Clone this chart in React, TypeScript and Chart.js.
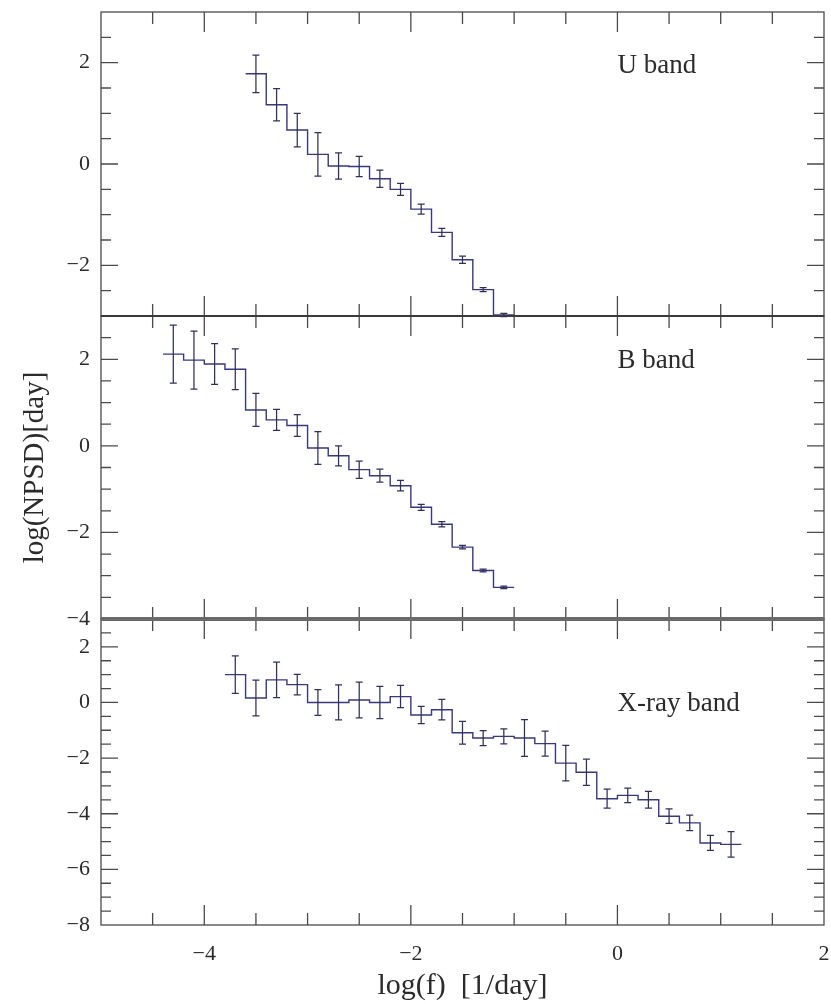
import React, { useEffect, useRef } from 'react';
import { Chart, registerables } from 'chart.js';

Chart.register(...registerables);

// ---------------- data ----------------
const uFreq = [-3.5, -3.3, -3.1, -2.9, -2.7, -2.5, -2.3, -2.1, -1.9, -1.7, -1.5, -1.3, -1.1];
const uPower = [1.78, 1.17, 0.67, 0.19, -0.04, -0.05, -0.29, -0.5, -0.89, -1.35, -1.89, -2.48, -2.98];
const uErr = [0.37, 0.32, 0.33, 0.43, 0.26, 0.2, 0.17, 0.12, 0.1, 0.08, 0.07, 0.04, 0.03];

const bFreq = [-4.3, -4.1, -3.9, -3.7, -3.5, -3.3, -3.1, -2.9, -2.7, -2.5, -2.3, -2.1, -1.9, -1.7, -1.5, -1.3, -1.1];
const bPower = [2.12, 1.98, 1.89, 1.77, 0.83, 0.6, 0.47, -0.05, -0.23, -0.55, -0.69, -0.92, -1.42, -1.81, -2.34, -2.88, -3.27];
const bErr = [0.67, 0.67, 0.47, 0.47, 0.38, 0.24, 0.25, 0.38, 0.23, 0.2, 0.15, 0.12, 0.07, 0.06, 0.04, 0.03, 0.03];

const xFreq = [-3.7, -3.5, -3.3, -3.1, -2.9, -2.7, -2.5, -2.3, -2.1, -1.9, -1.7, -1.5, -1.3, -1.1, -0.9, -0.7, -0.5, -0.3, -0.1, 0.1, 0.3, 0.5, 0.7, 0.9, 1.1];
const xPower = [1.0, 0.16, 0.81, 0.64, 0.0, 0.0, 0.09, 0.0, 0.21, -0.45, -0.26, -1.09, -1.28, -1.22, -1.28, -1.48, -2.18, -2.51, -3.46, -3.34, -3.5, -4.09, -4.33, -5.05, -5.1];
const xErr = [0.67, 0.64, 0.64, 0.37, 0.46, 0.63, 0.64, 0.58, 0.4, 0.31, 0.37, 0.41, 0.27, 0.27, 0.66, 0.45, 0.64, 0.47, 0.34, 0.26, 0.3, 0.26, 0.28, 0.27, 0.46];

// axis ticks / labels
const freqTicks = [-4, -2, 0, 2];
const uTicks = [-2, 0, 2];
const bTicks = [-4, -2, 0, 2];
const xrTicks = [-8, -6, -4, -2, 0, 2];
const panelLabels = ['U band', 'B band', 'X-ray band'];
const xTitle = 'log(f)  [1/day]';
const yTitle = 'log(NPSD)[day]';

const BIN_HALF = 0.1;

// ---------------- styles ----------------
const SERIF = '"Liberation Serif", "Times New Roman", serif';
const TEXT = '#2b2b2b';
const FRAME = '#4a4a4a';
const STEP = '#38387e';
const ERR = '#30305a';

const panels = [
  { id: 'yU', f: uFreq, p: uPower, e: uErr, min: -3, max: 3, ticks: uTicks, label: panelLabels[0], lx: 0.0, ly: 1.8 },
  { id: 'yB', f: bFreq, p: bPower, e: bErr, min: -4, max: 3, ticks: bTicks, label: panelLabels[1], lx: 0.0, ly: 1.8 },
  { id: 'yX', f: xFreq, p: xPower, e: xErr, min: -8, max: 3, ticks: xrTicks, label: panelLabels[2], lx: 0.0, ly: -0.3 },
];

function stepPoints(f: number[], p: number[]) {
  const out: { x: number; y: number }[] = [];
  f.forEach((x, i) => {
    out.push({ x: x - BIN_HALF, y: p[i] });
    out.push({ x: x + BIN_HALF, y: p[i] });
  });
  return out;
}

function halfSteps(min: number, max: number) {
  const out: number[] = [];
  for (let v = min + 0.5; v < max - 1e-9; v += 0.5) out.push(Math.round(v * 10) / 10);
  return out;
}

function fmt(v: number) {
  return v < 0 ? '\u2212' + Math.abs(v) : String(v);
}

const decorPlugin = {
  id: 'decor',
  afterDatasetsDraw(chart: any) {
    const ctx = chart.ctx as CanvasRenderingContext2D;
    const xs = chart.scales.x;
    ctx.save();
    panels.forEach((pn) => {
      const ys = chart.scales[pn.id];
      ctx.strokeStyle = ERR;
      ctx.lineWidth = 1.25;
      pn.f.forEach((fv, i) => {
        const px = xs.getPixelForValue(fv);
        const t = ys.getPixelForValue(pn.p[i] + pn.e[i]);
        const b = ys.getPixelForValue(pn.p[i] - pn.e[i]);
        ctx.beginPath();
        ctx.moveTo(px, t);
        ctx.lineTo(px, b);
        ctx.moveTo(px - 3.5, t);
        ctx.lineTo(px + 3.5, t);
        ctx.moveTo(px - 3.5, b);
        ctx.lineTo(px + 3.5, b);
        ctx.stroke();
      });
    });
    ctx.restore();
  },
  afterDraw(chart: any) {
    const ctx = chart.ctx as CanvasRenderingContext2D;
    const xs = chart.scales.x;
    const xMinor = halfSteps(-5, 2);
    ctx.save();
    panels.forEach((pn) => {
      const ys = chart.scales[pn.id];
      ctx.strokeStyle = FRAME;
      ctx.lineWidth = 1.3;
      ctx.beginPath();
      xMinor.forEach((v) => {
        const px = xs.getPixelForValue(v);
        const len = freqTicks.includes(v) ? 20 : 12;
        ctx.moveTo(px, ys.top);
        ctx.lineTo(px, ys.top + len);
        ctx.moveTo(px, ys.bottom);
        ctx.lineTo(px, ys.bottom - len);
      });
      halfSteps(pn.min, pn.max).forEach((v) => {
        const py = ys.getPixelForValue(v);
        const len = pn.ticks.includes(v) ? 17 : 10;
        ctx.moveTo(xs.left, py);
        ctx.lineTo(xs.left + len, py);
        ctx.moveTo(xs.right, py);
        ctx.lineTo(xs.right - len, py);
      });
      ctx.stroke();
      ctx.strokeRect(xs.left, ys.top, xs.right - xs.left, ys.bottom - ys.top);
      ctx.fillStyle = TEXT;
      ctx.font = '27px ' + SERIF;
      ctx.textAlign = 'left';
      ctx.textBaseline = 'alphabetic';
      ctx.fillText(pn.label, xs.getPixelForValue(pn.lx), ys.getPixelForValue(pn.ly));
    });
    const yB = chart.scales.yB;
    ctx.strokeStyle = '#3a3a3a';
    ctx.lineWidth = 2;
    ctx.beginPath();
    ctx.moveTo(xs.left, yB.top);
    ctx.lineTo(xs.right, yB.top);
    ctx.stroke();
    ctx.strokeStyle = '#6a6a6a';
    ctx.lineWidth = 4;
    ctx.beginPath();
    ctx.moveTo(xs.left, yB.bottom);
    ctx.lineTo(xs.right, yB.bottom);
    ctx.stroke();
    ctx.restore();
  },
};

export default function App() {
  const ref = useRef<HTMLCanvasElement | null>(null);

  useEffect(() => {
    document.body.style.margin = '0';
    const canvas = ref.current;
    if (!canvas) return;

    const datasets = panels.map((pn) => ({
      type: 'line' as const,
      data: stepPoints(pn.f, pn.p),
      yAxisID: pn.id,
      xAxisID: 'x',
      borderColor: STEP,
      borderWidth: 1.4,
      pointRadius: 0,
      tension: 0,
      fill: false,
    }));

    const yScale = (pn: any, weight: number, stackWeight: number, withTitle: boolean) => ({
      type: 'linear',
      position: 'left',
      stack: 'panels',
      stackWeight,
      weight,
      min: pn.min,
      max: pn.max,
      afterBuildTicks: (s: any) => {
        s.ticks = pn.ticks.map((v: number) => ({ value: v }));
      },
      afterFit: (s: any) => {
        s.width = 101;
        s.paddingTop = 0;
        s.paddingBottom = 0;
        s.paddingLeft = 0;
        s.paddingRight = 0;
      },
      grid: { display: false, drawTicks: false },
      border: { display: false },
      ticks: {
        font: { family: SERIF, size: 22 },
        color: TEXT,
        padding: 11,
        autoSkip: false,
        callback: (v: any) => fmt(Number(v)),
      },
      title: withTitle
        ? {
            display: true,
            text: yTitle,
            font: { family: SERIF, size: 29 },
            color: TEXT,
            padding: { top: 18, bottom: 0 },
          }
        : { display: false },
    });

    const chart = new Chart(canvas, {
      type: 'line',
      data: { datasets },
      plugins: [decorPlugin],
      options: {
        animation: false,
        responsive: false,
        maintainAspectRatio: false,
        devicePixelRatio: 1,
        layout: { padding: { top: 12, right: 7, left: 0, bottom: 0 } },
        plugins: { legend: { display: false }, tooltip: { enabled: false } },
        scales: {
          x: {
            type: 'linear',
            position: 'bottom',
            min: -5,
            max: 2,
            afterBuildTicks: (s: any) => {
              s.ticks = freqTicks.map((v) => ({ value: v }));
            },
            afterFit: (s: any) => {
              s.height = 79;
              s.paddingLeft = 0;
              s.paddingRight = 0;
              s.paddingTop = 0;
              s.paddingBottom = 0;
            },
            grid: { display: false, drawTicks: false },
            border: { display: false },
            ticks: {
              font: { family: SERIF, size: 22 },
              color: TEXT,
              padding: 16,
              autoSkip: false,
              maxRotation: 0,
              callback: (v: any) => fmt(Number(v)),
            },
            title: {
              display: true,
              text: xTitle,
              font: { family: SERIF, size: 30 },
              color: TEXT,
              padding: { top: 0, bottom: 0 },
            },
          },
          yU: yScale(panels[0], 3, 304, false),
          yB: yScale(panels[1], 2, 303, true),
          yX: yScale(panels[2], 1, 306, false),
        } as any,
      },
    });

    return () => chart.destroy();
  }, []);

  return (
    <div style={{ width: 831, height: 1004, background: '#fff' }}>
      <canvas ref={ref} width={831} height={1004} style={{ display: 'block', width: 831, height: 1004 }} />
    </div>
  );
}
